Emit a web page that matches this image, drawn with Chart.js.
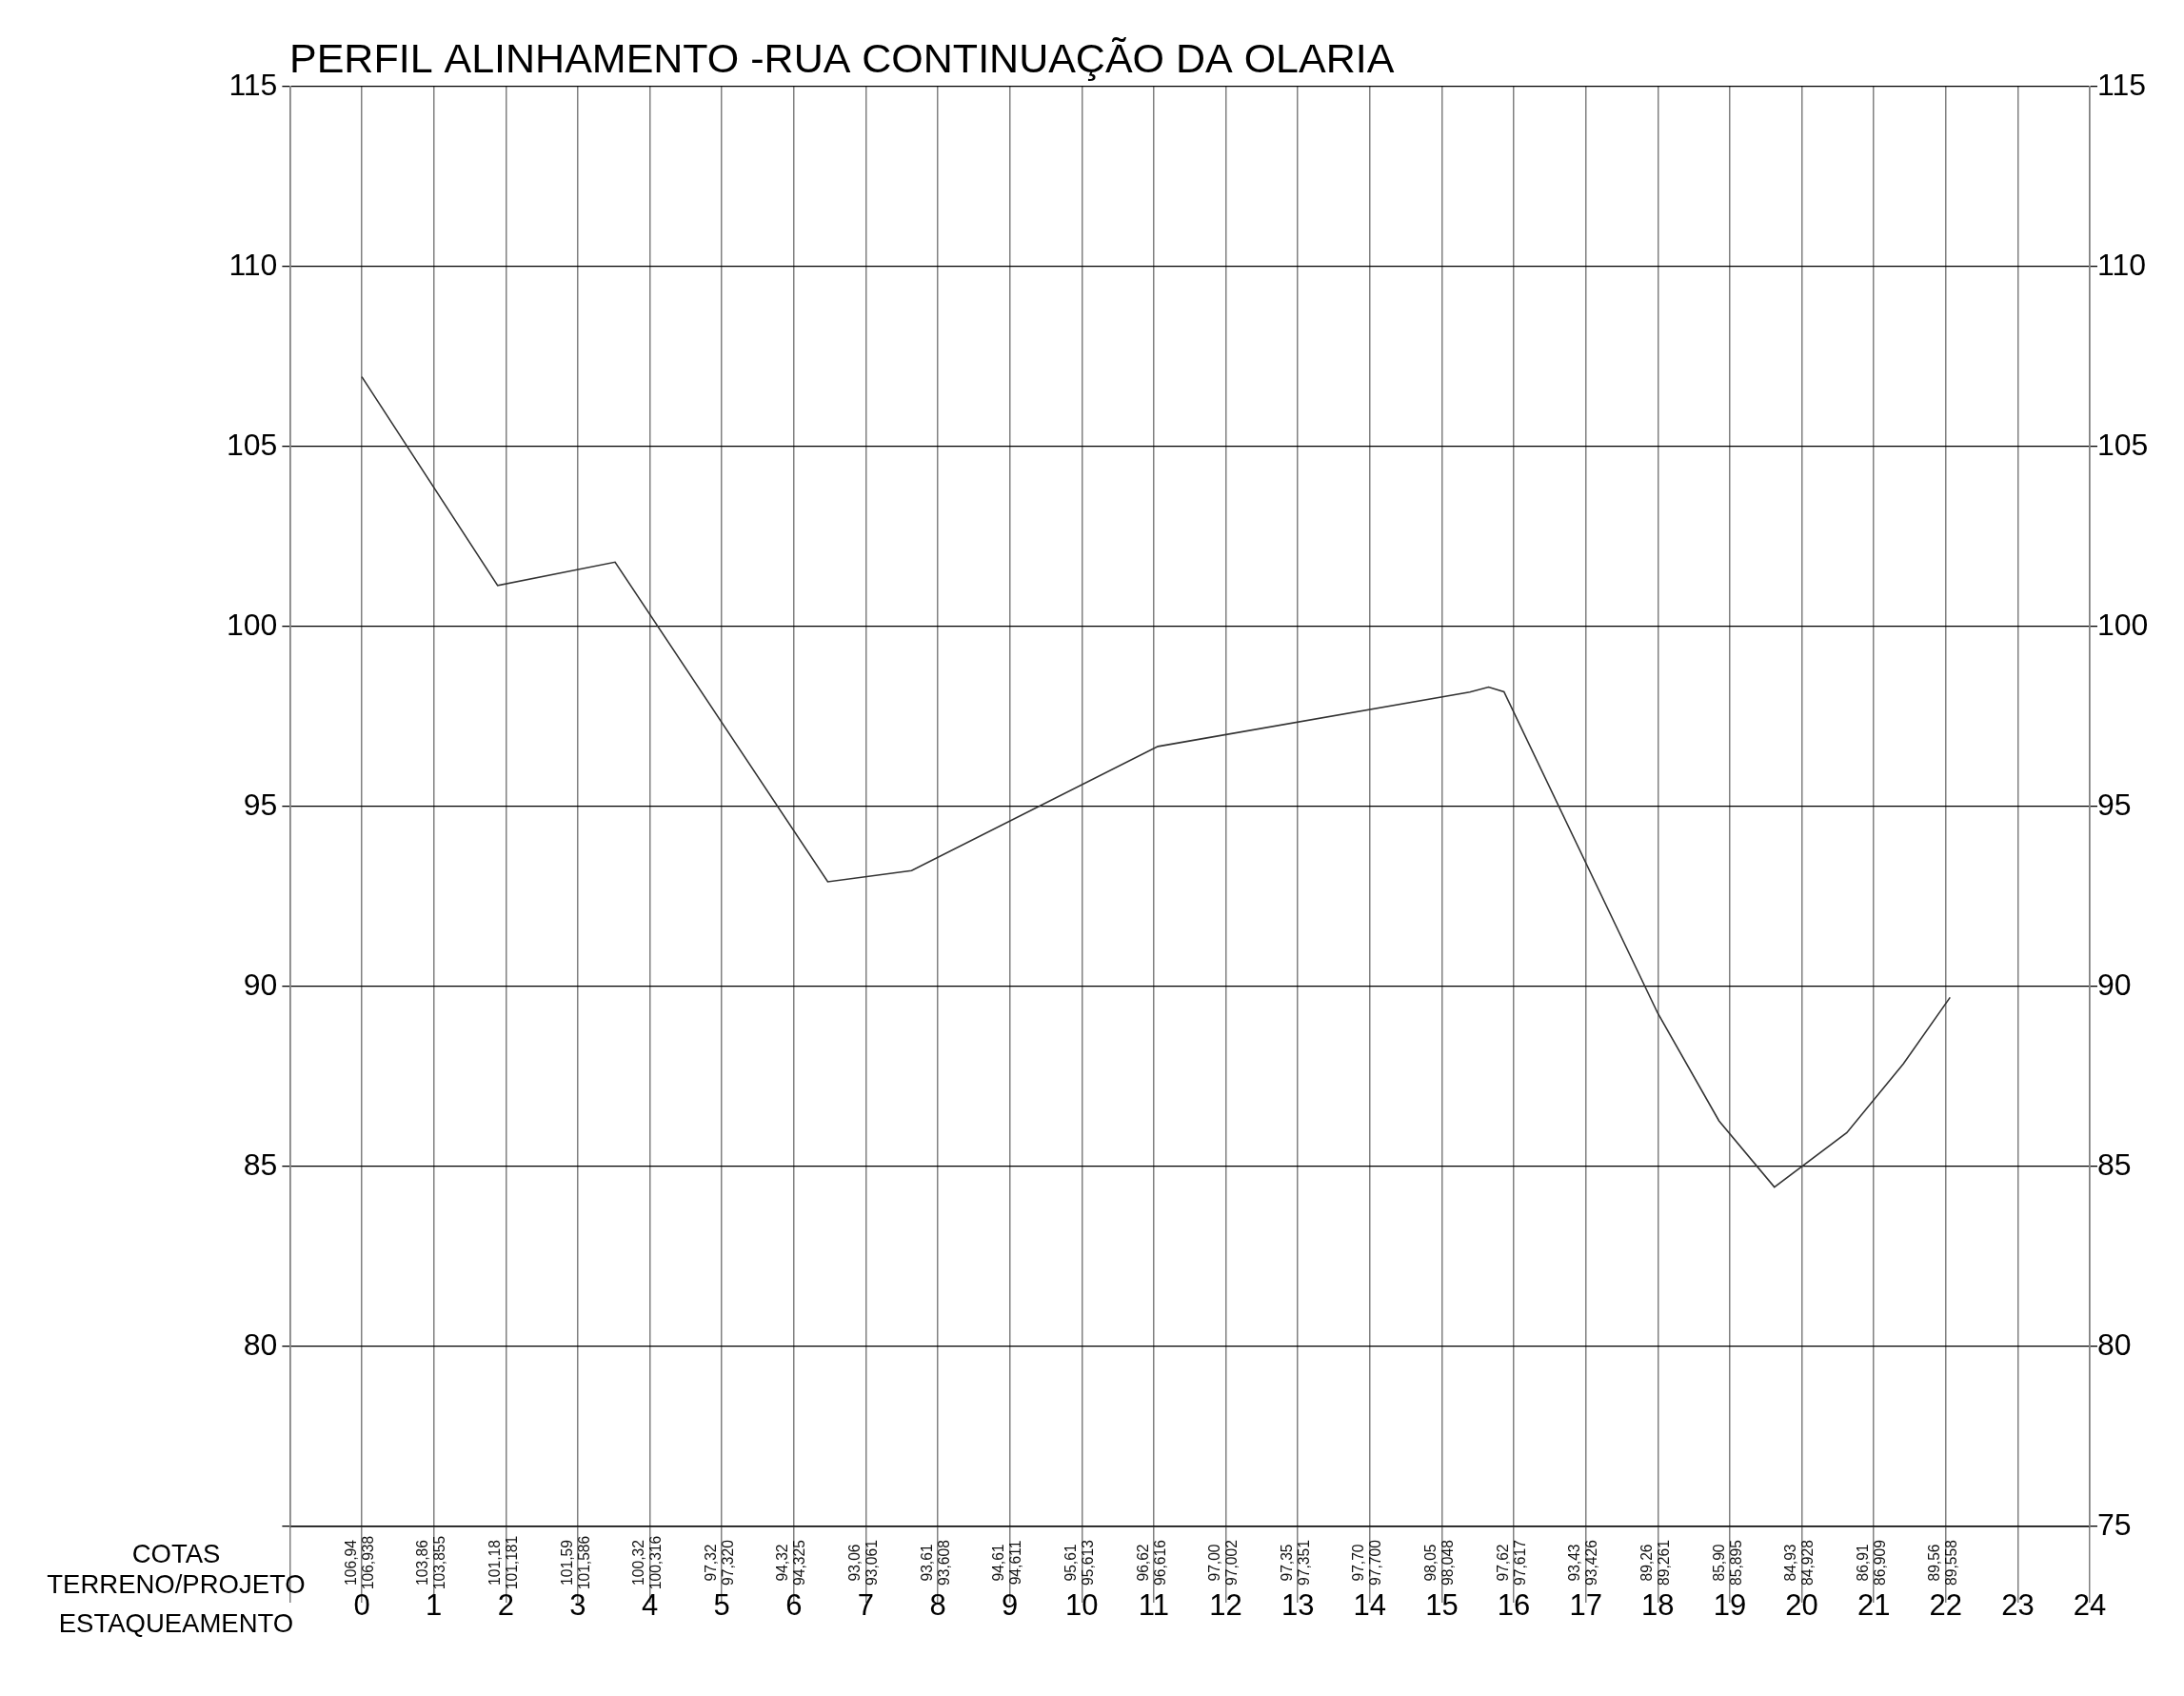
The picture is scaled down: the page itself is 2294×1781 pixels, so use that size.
<!DOCTYPE html>
<html><head><meta charset="utf-8">
<script src="https://cdn.jsdelivr.net/npm/chart.js@4/dist/chart.umd.min.js"></script>
<style>html,body{margin:0;padding:0;background:#fff;} canvas{display:block;}</style>
</head><body>
<canvas id="c" width="2294" height="1781"></canvas>
<script>
const chartTitle = 'PERFIL ALINHAMENTO -RUA CONTINUAÇÃO DA OLARIA';
const rowLabels = ['COTAS', 'TERRENO/PROJETO', 'ESTAQUEAMENTO'];
const stationNumbers = [0,1,2,3,4,5,6,7,8,9,10,11,12,13,14,15,16,17,18,19,20,21,22,23,24];
const cotasTerreno = [106.94,103.86,101.18,101.59,100.32,97.32,94.32,93.06,93.61,94.61,95.61,96.62,97.00,97.35,97.70,98.05,97.62,93.43,89.26,85.90,84.93,86.91,89.56];
const cotasProjeto = [106.938,103.855,101.181,101.586,100.316,97.320,94.325,93.061,93.608,94.611,95.613,96.616,97.002,97.351,97.700,98.048,97.617,93.426,89.261,85.895,84.928,86.909,89.558];
const profileStation = [0,1.887,3.518,6.472,7.636,11.057,15.39,15.65,15.864,18.0,18.85,19.62,20.626,21.41,22.06];
const profileElev = [106.94,101.14,101.79,92.91,93.22,96.67,98.18,98.32,98.19,89.26,86.27,84.43,85.94,87.85,89.70];
const yMin = 75, yMax = 115, yStep = 5;

const FONT = '"Liberation Sans", Arial, sans-serif';
Chart.defaults.font.family = FONT;

const fmt = (v, d) => v.toFixed(d).replace('.', ',');

const annot = {
  id: 'annot',
  afterDraw(chart) {
    const ctx = chart.ctx;
    const xs = chart.scales.x;
    ctx.save();
    ctx.fillStyle = '#000';
    // title
    ctx.font = '43px ' + FONT;
    ctx.textAlign = 'left';
    ctx.textBaseline = 'alphabetic';
    ctx.fillText(chartTitle, 304, 76);
    // row labels
    ctx.font = '27.5px ' + FONT;
    ctx.textAlign = 'center';
    const rowY = [1641, 1673, 1714];
    rowLabels.forEach((t, i) => ctx.fillText(t, 185, rowY[i]));
    // elevation labels (rotated)
    ctx.fillStyle = '#111';
    ctx.font = '17px ' + FONT;
    ctx.textAlign = 'center';
    ctx.textBaseline = 'middle';
    const drawRot = (txt, x, y) => {
      ctx.save();
      ctx.translate(x, y);
      ctx.rotate(-Math.PI / 2);
      ctx.scale(0.92, 1);
      ctx.fillText(txt, 0, 0);
      ctx.restore();
    };
    cotasTerreno.forEach((v, i) => {
      const px = xs.getPixelForValue(stationNumbers[i]);
      drawRot(fmt(v, 2), px - 11, 1641);
      drawRot(fmt(cotasProjeto[i], 3), px + 7, 1641);
    });
    ctx.restore();
  }
};

new Chart(document.getElementById('c'), {
  type: 'line',
  data: {
    datasets: [{
      data: profileStation.map((s, i) => ({x: s, y: profileElev[i]})),
      borderColor: '#333',
      borderWidth: 1.6,
      pointRadius: 0,
      tension: 0,
      fill: false
    }]
  },
  options: {
    responsive: false,
    animation: false,
    devicePixelRatio: 1,
    layout: {padding: {top: 91, left: 0, right: 0, bottom: 0}},
    plugins: {legend: {display: false}, tooltip: {enabled: false}, title: {display: false}},
    scales: {
      x: {
        type: 'linear', min: -1, max: 24, position: 'bottom',
        afterFit(s) { s.height = 178; },
        ticks: {
          stepSize: 1, autoSkip: false, maxRotation: 0, minRotation: 0, padding: -14,
          font: {size: 31}, color: '#000',
          callback: (v) => stationNumbers.includes(v) ? String(v) : ''
        },
        grid: {color: '#808080', lineWidth: 1.5, tickLength: 80, drawTicks: true},
        border: {color: '#000', width: 1.5}
      },
      y: {
        type: 'linear', min: yMin, max: yMax, position: 'left',
        afterFit(s) { s.width = 304.4; },
        ticks: {stepSize: yStep, padding: 5, font: {size: 32}, color: '#000',
          callback: (v) => v === yMin ? '' : String(v)},
        grid: {color: '#000', lineWidth: 1.3, tickLength: 8},
        border: {color: '#808080', width: 1.5}
      },
      y2: {
        type: 'linear', min: yMin, max: yMax, position: 'right',
        afterFit(s) { s.width = 99; },
        ticks: {stepSize: yStep, padding: 0, font: {size: 32}, color: '#000'},
        grid: {drawOnChartArea: false, color: '#000', lineWidth: 1.3, tickLength: 8},
        border: {color: '#808080', width: 1.5}
      }
    }
  },
  plugins: [annot]
});
</script>
</body></html>
